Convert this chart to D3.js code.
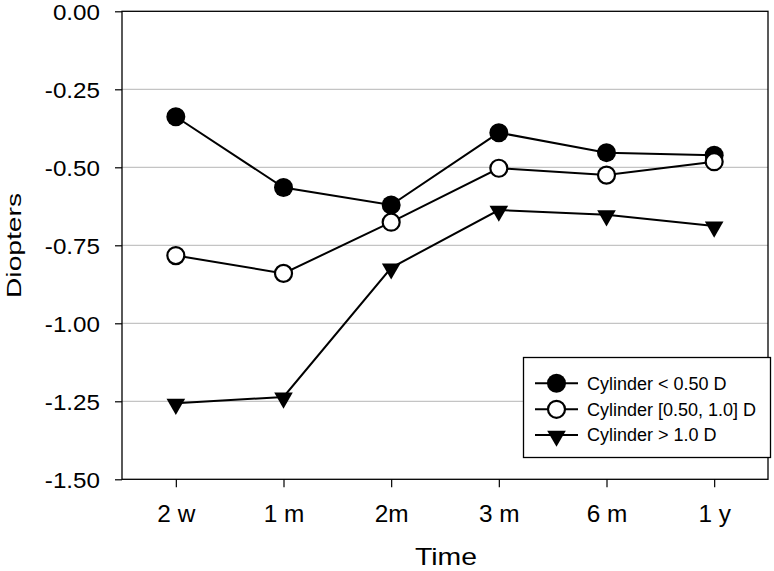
<!DOCTYPE html>
<html><head><meta charset="utf-8">
<script src="https://cdn.jsdelivr.net/npm/d3@7"></script>
<style>body{margin:0;background:#fff}svg{display:block}text{font-family:"Liberation Sans",Arial,sans-serif}</style>
</head><body><svg id="c" width="774" height="571"></svg>
<script>
const categories = ["2 w","1 m","2m","3 m","6 m","1 y"];
const cylLow = [-0.338,-0.565,-0.621,-0.389,-0.453,-0.461];
const cylMid = [-0.783,-0.840,-0.676,-0.503,-0.525,-0.482];
const cylHigh = [-1.256,-1.236,-0.822,-0.637,-0.652,-0.688];
const yTicks = [0,-0.25,-0.5,-0.75,-1.0,-1.25,-1.5];
const seriesNames = ["Cylinder < 0.50 D","Cylinder [0.50, 1.0] D","Cylinder > 1.0 D"];

const svg = d3.select("#c");
const L=122,R=768,T=11.3,B=479.3;
const x = d3.scaleLinear().domain([0.5,6.5]).range([L,R]);
const y = d3.scaleLinear().domain([0,-1.5]).range([T,B]);

function stretch(sel,k){
  sel.each(function(){ const w=this.getComputedTextLength(); d3.select(this).attr("textLength",w*k).attr("lengthAdjust","spacingAndGlyphs"); });
}

// gridlines
svg.append("g").selectAll("line").data(yTicks.filter(v=>v!==0&&v!==-1.5)).join("line")
  .attr("x1",L).attr("x2",R).attr("y1",d=>y(d)).attr("y2",d=>y(d))
  .attr("stroke","#c4c4c4").attr("stroke-width",1.2);

// frame
svg.append("rect").attr("x",L).attr("y",T).attr("width",R-L).attr("height",B-T)
  .attr("fill","none").attr("stroke","#000").attr("stroke-width",1.3);

// axes
const fmt = d3.format(".2f");
const yAxis = d3.axisLeft(y).tickValues(yTicks).tickFormat(d=>fmt(d).replace("\u2212","-")).tickSize(7).tickPadding(15);
const gy = svg.append("g").attr("transform",`translate(${L},0)`).call(yAxis);
gy.select(".domain").remove();
gy.selectAll("text").attr("font-size",22).attr("fill","#000").attr("dy","0.36em");
gy.selectAll("line").attr("stroke","#000").attr("stroke-width",1.2);
stretch(gy.selectAll("text"),1.1);

const xAxis = d3.axisBottom(x).tickValues(d3.range(1,7)).tickFormat(i=>categories[i-1]).tickSize(8).tickPadding(18);
const gx = svg.append("g").attr("transform",`translate(0,${B})`).call(xAxis);
gx.select(".domain").remove();
gx.selectAll("text").attr("font-size",23).attr("fill","#000");
gx.selectAll("line").attr("stroke","#000").attr("stroke-width",1.2);
stretch(gx.selectAll("text"),1.06);

svg.append("text").attr("x",446).attr("y",565).attr("text-anchor","middle").attr("font-size",24.5)
  .attr("textLength",62).attr("lengthAdjust","spacingAndGlyphs").text("Time");
svg.append("text").attr("transform",`translate(21,245.5) rotate(-90)`).attr("text-anchor","middle").attr("font-size",21)
  .attr("textLength",105).attr("lengthAdjust","spacingAndGlyphs").text("Diopters");

const line = d3.line().x((d,i)=>x(i+1)).y(d=>y(d));
const tri = d3.symbol().type(d3.symbolTriangle).size(150);
const all = [cylLow,cylMid,cylHigh];
all.forEach((s,k)=>{
  svg.append("path").datum(s).attr("d",line).attr("fill","none").attr("stroke","#000").attr("stroke-width",2);
});
function marker(g,k,cx,cy){
  if(k===0) g.append("circle").attr("cx",cx).attr("cy",cy).attr("r",9.5).attr("fill","#000");
  else if(k===1) g.append("circle").attr("cx",cx).attr("cy",cy).attr("r",8.5).attr("fill","#fff").attr("stroke","#000").attr("stroke-width",2.2);
  else g.append("path").attr("d",tri).attr("transform",`translate(${cx},${cy+1}) rotate(180)`).attr("fill","#000");
}
all.forEach((s,k)=>{
  const g=svg.append("g");
  s.forEach((v,i)=>marker(g,k,x(i+1),y(v)));
});

// legend
const lg = svg.append("g");
lg.append("rect").attr("x",523.5).attr("y",357.5).attr("width",247).attr("height",100)
  .attr("fill","#fff").attr("stroke","#000").attr("stroke-width",1.3);
const rows=[383.3,409.3,435];
seriesNames.forEach((n,k)=>{
  lg.append("line").attr("x1",535).attr("x2",578).attr("y1",rows[k]).attr("y2",rows[k]).attr("stroke","#000").attr("stroke-width",2);
  marker(lg,k,556.5,rows[k]);
  lg.append("text").attr("x",587).attr("y",rows[k]).attr("dy","0.35em").attr("font-size",18).text(n);
});
</script></body></html>
